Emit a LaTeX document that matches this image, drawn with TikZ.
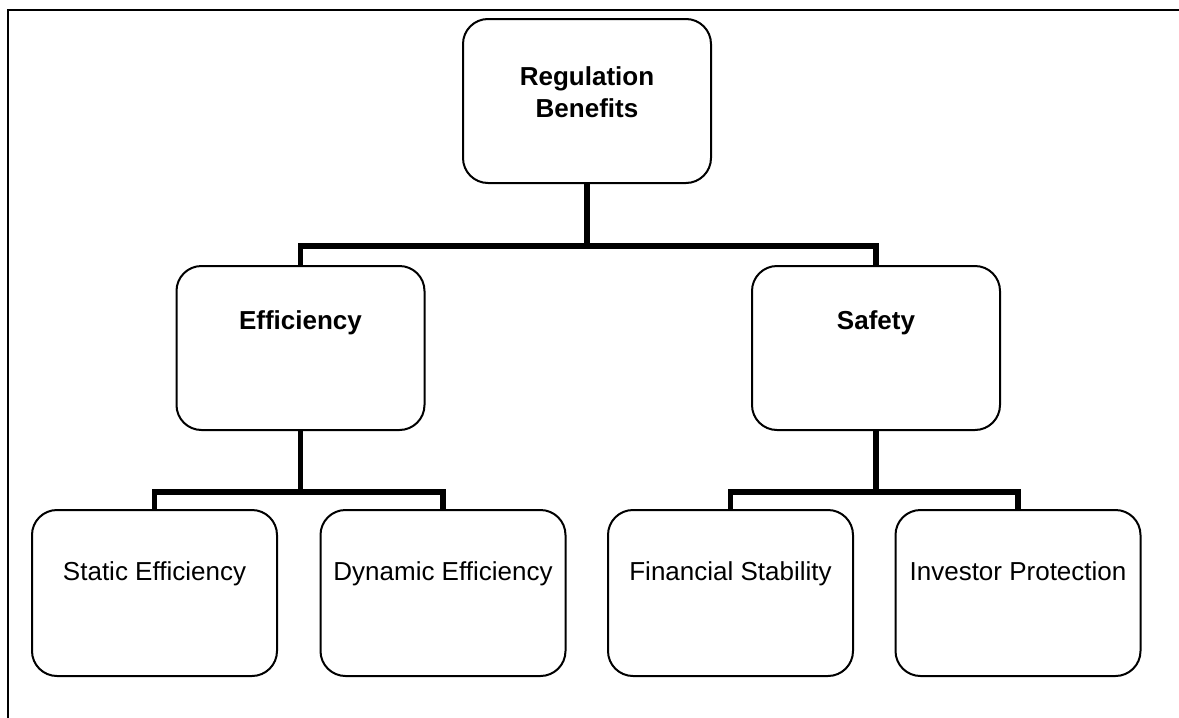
\documentclass[tikz,border=0pt]{standalone}
\usepackage{fontspec}
\setmainfont{Liberation Sans}
\begin{document}
\begin{tikzpicture}[x=0.5pt,y=-0.5pt,
  box/.style={draw=black, line width=1pt, rounded corners=12.5pt, minimum width=#1, inner sep=0pt},
  lvla/.style={box=124pt, minimum height=82pt},
  leaf/.style={box=122.5pt, minimum height=83pt},
  hdr/.style={font=\fontsize{13pt}{16pt}\selectfont\bfseries, inner sep=0pt, align=center},
  txt/.style={font=\fontsize{13pt}{16pt}\selectfont, inner sep=0pt},
  conn/.style={line width=2.6pt, line join=miter},
  frame/.style={line width=1.2pt}]
\useasboundingbox (0,0) rectangle (1179,718);
% frame
\coordinate (ftr) at (1179,10);
\coordinate (ftl) at (8,10);
\coordinate (fbl) at (8,718);
\draw[frame] (ftr) -- (ftl) -- (fbl);
% boxes
\node[lvla] (root) at (587,101) {};
\node[lvla] (eff) at (300.5,348) {};
\node[lvla] (saf) at (876,348) {};
\node[leaf] (sta) at (154.5,593) {};
\node[leaf] (dyn) at (443,593) {};
\node[leaf] (fin) at (730.5,593) {};
\node[leaf] (inv) at (1018,593) {};
% texts
\node[hdr] (troot) at (587,92) {Regulation\\Benefits};
\node[hdr, anchor=base] (teff) at (300.5,329) {Efficiency};
\node[hdr, anchor=base] (tsaf) at (876,329) {Safety};
\node[txt, anchor=base] (tsta) at (154.5,580) {Static Efficiency};
\node[txt, anchor=base] (tdyn) at (443,580) {Dynamic Efficiency};
\node[txt, anchor=base] (tfin) at (730.5,580) {Financial Stability};
\node[txt, anchor=base] (tinv) at (1018,580) {Investor Protection};
% connectors
\coordinate (j1) at (587,246);
\coordinate (j2) at (300.5,492);
\coordinate (j3) at (876,492);
\draw[conn] (root.south) -- (j1);
\draw[conn] (eff.north) -- (eff.north |- j1) -- (saf.north |- j1) -- (saf.north);
\draw[conn] (eff.south) -- (j2);
\draw[conn] (sta.north) -- (sta.north |- j2) -- (dyn.north |- j2) -- (dyn.north);
\draw[conn] (saf.south) -- (j3);
\draw[conn] (fin.north) -- (fin.north |- j3) -- (inv.north |- j3) -- (inv.north);
\end{tikzpicture}
\end{document}
